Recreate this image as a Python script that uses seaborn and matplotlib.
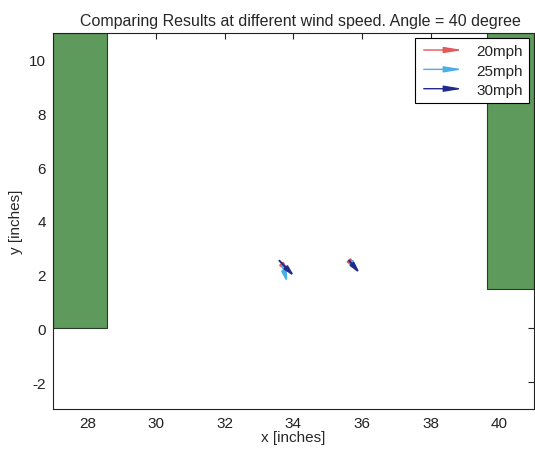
import matplotlib
matplotlib.use("Agg")
import matplotlib.pyplot as plt
import seaborn as sns
from matplotlib.patches import FancyArrowPatch, Rectangle
from matplotlib.legend_handler import HandlerPatch

# ---- data ----
series = ["20mph", "25mph", "30mph"]
colors = ["#e05a5a", "#4aaee8", "#1f2a8c"]
x20 = [33.72, 35.72]; y20 = [2.30, 2.38]; u20 = [0.17, 0.14]; v20 = [-0.26, -0.20]
x25 = [33.68, 35.75]; y25 = [2.35, 2.35]; u25 = [0.14, 0.15]; v25 = [-0.65, -0.25]
x30 = [33.59, 35.62]; y30 = [2.52, 2.52]; u30 = [0.44, 0.32]; v30 = [-0.59, -0.48]
walls_x = [27.0, 39.64]; walls_w = [1.56, 1.36]
walls_y = [0.0, 1.48]; walls_h = [11.0, 9.52]
xticks = [28, 30, 32, 34, 36, 38, 40]
yticks = [-2, 0, 2, 4, 6, 8, 10]

sns.set_theme(style="white")
plt.rcParams['font.family'] = ['Liberation Sans', 'DejaVu Sans']
plt.rcParams['axes.unicode_minus'] = False

fig = plt.figure(figsize=(5.35, 4.52), dpi=100)
ax = fig.add_axes([0.099, 0.093, 0.899, 0.832])

for wx, wy, ww, wh in zip(walls_x, walls_y, walls_w, walls_h):
    ax.add_patch(Rectangle((wx, wy), ww, wh, facecolor="#5e9a5c", edgecolor="#2a3a2a", lw=0.8, zorder=1))

data = [(x20, y20, u20, v20), (x25, y25, u25, v25), (x30, y30, u30, v30)]
for (xs, ys, us, vs), c in zip(data, colors):
    for xx, yy, uu, vv in zip(xs, ys, us, vs):
        ax.annotate("", xy=(xx + uu, yy + vv), xytext=(xx, yy),
                    arrowprops=dict(arrowstyle="-|>,head_length=0.5,head_width=0.12", color=c, lw=1.4,
                                    shrinkA=0, shrinkB=0), zorder=3)

class ArrowHandler(HandlerPatch):
    def create_artists(self, legend, orig_handle, xdescent, ydescent, width, height, fontsize, trans):
        p = FancyArrowPatch((0 - xdescent, height / 2), (width - xdescent, height / 2),
                            arrowstyle="-|>,head_length=0.9,head_width=0.15", mutation_scale=12,
                            color=orig_handle.get_edgecolor(), lw=1.0, transform=trans)
        return [p]

handles = [FancyArrowPatch((0, 0), (1, 0), color=c) for c in colors]
leg = ax.legend(handles, series, loc="upper right", handler_map={FancyArrowPatch: ArrowHandler()},
                fontsize=11, frameon=True, fancybox=False, framealpha=1, edgecolor="black",
                handlelength=2.9, handletextpad=0.7, borderpad=0.4, labelspacing=0.35,
                borderaxespad=0.35)
leg.get_frame().set_linewidth(0.8)

ax.set_xlim(27, 41)
ax.set_ylim(-3, 11)
ax.set_xticks(xticks)
ax.set_yticks(yticks)
ax.tick_params(direction="in", length=4, width=0.8, top=True, right=True, labelsize=11,
               colors="#222222", labelcolor="#222222", pad=5)
for s in ax.spines.values():
    s.set_color("#222222"); s.set_linewidth(0.8); s.set_visible(True)
ax.set_xlabel("x [inches]", fontsize=11, labelpad=0)
ax.set_ylabel("y [inches]", fontsize=11, labelpad=4)
ax.set_title("Comparing Results at different wind speed. Angle = 40 degree", fontsize=11.5, pad=6,
             x=0.515)

fig.savefig("out.png", dpi=100)
